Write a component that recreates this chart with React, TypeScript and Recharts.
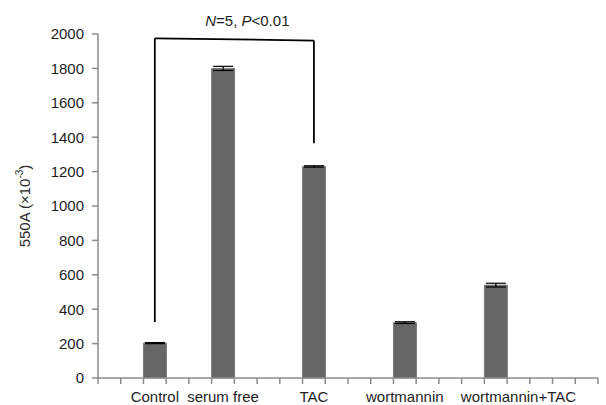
import React from "react"
import { BarChart, Bar, XAxis, YAxis, ErrorBar, ReferenceLine } from "recharts"

// Excel-style axis: 22 equal category slots, most of them empty
const slotLabels = [
  "", "", "Control", "", "", "serum free", "", "", "", "TAC", "", "",
  "", "wortmannin", "", "", "", "", "wortmannin+TAC", "", "", "",
]
const slotValues = [
  null, null, 203, null, null, 1800, null, null, null, 1230, null, null,
  null, 322, null, null, null, 540, null, null, null, null,
]
const slotErrors = [
  null, null, 3, null, null, 12, null, null, null, 4, null, null,
  null, 5, null, null, null, 11, null, null, null, null,
]
const yTicks = [0, 200, 400, 600, 800, 1000, 1200, 1400, 1600, 1800, 2000]

// significance bracket between Control (slot 2) and TAC (slot 9)
const bracketSlots = [2, 9]
const bracketTop = [1975, 1962]
const bracketFeet = [325, 1365]

const data = slotLabels.map((label, i) => ({
  idx: i,
  label,
  value: slotValues[i],
  err: slotErrors[i],
}))

const W = 606
const H = 405
const MARGIN = { top: 34, right: 8, left: 0, bottom: 0 }
const Y_WIDTH = 98
const slotWidth = (W - Y_WIDTH - MARGIN.left - MARGIN.right) / slotLabels.length

const axisGray = "#8c8c8c"
const textColor = "#1e1e1e"

// tick marks sit on the slot boundaries like in Excel, labels at slot centres
function SlotTick(props: any) {
  const { x, y, index, payload } = props
  const half = slotWidth / 2
  const last = index === slotLabels.length - 1
  return (
    <g>
      <line x1={x - half} y1={y} x2={x - half} y2={y + 6} stroke={axisGray} strokeWidth={1.5} />
      {last && <line x1={x + half} y1={y} x2={x + half} y2={y + 6} stroke={axisGray} strokeWidth={1.5} />}
      <text x={x} y={y + 24} textAnchor="middle" fill={textColor} fontSize={15}>
        {slotLabels[payload.value]}
      </text>
    </g>
  )
}

function YTitle(props: any) {
  const vb = props.viewBox || {}
  const cx = 24
  const cy = vb.y + vb.height / 2
  return (
    <text
      x={cx}
      y={cy}
      transform={`rotate(-90 ${cx} ${cy})`}
      textAnchor="middle"
      dominantBaseline="central"
      fill="#2a2a2a"
      fontSize={15}
    >
      550A (×10<tspan dy={-5} fontSize={10}>-3</tspan>
      <tspan dy={5}>)</tspan>
    </text>
  )
}

function SigLabel(props: any) {
  const vb = props.viewBox || {}
  const x = vb.x + (vb.width || 0) / 2 + 13
  const y = vb.y - 12
  return (
    <text x={x} y={y} textAnchor="middle" fill={textColor} fontSize={15}>
      <tspan fontStyle="italic">N</tspan>=5, <tspan fontStyle="italic">P</tspan>&lt;0.01
    </text>
  )
}

export default function App() {
  return (
    <div style={{ position: "absolute", left: 0, top: 0, background: "#fff" }}>
      <BarChart
        width={W}
        height={H}
        data={data}
        margin={MARGIN}
        barCategoryGap={0}
        style={{ fontFamily: "'Liberation Sans', Arial, sans-serif" }}
      >
        <XAxis
          dataKey="idx"
          type="category"
          interval={0}
          height={27}
          axisLine={{ stroke: axisGray, strokeWidth: 1.5 }}
          tickLine={false}
          tickSize={0}
          tickMargin={0}
          tick={<SlotTick />}
        />
        <YAxis
          width={Y_WIDTH}
          domain={[0, 2000]}
          ticks={yTicks}
          interval={0}
          tickSize={6}
          tickMargin={8}
          axisLine={{ stroke: axisGray, strokeWidth: 1.5 }}
          tickLine={{ stroke: axisGray, strokeWidth: 1.5 }}
          tick={{ fill: textColor, fontSize: 15 }}
          label={<YTitle />}
        />
        <Bar dataKey="value" fill="#666666" stroke="#7c7c7c" strokeWidth={1} isAnimationActive={false}>
          <ErrorBar dataKey="err" width={10} stroke="#000" strokeWidth={1.2} />
        </Bar>
        <ReferenceLine
          segment={[{ x: bracketSlots[0], y: bracketFeet[0] }, { x: bracketSlots[0], y: bracketTop[0] }]}
          stroke="#000"
          strokeWidth={1.8}
        />
        <ReferenceLine
          segment={[{ x: bracketSlots[0], y: bracketTop[0] }, { x: bracketSlots[1], y: bracketTop[1] }]}
          stroke="#000"
          strokeWidth={1.8}
          label={<SigLabel />}
        />
        <ReferenceLine
          segment={[{ x: bracketSlots[1], y: bracketTop[1] }, { x: bracketSlots[1], y: bracketFeet[1] }]}
          stroke="#000"
          strokeWidth={1.8}
        />
      </BarChart>
    </div>
  )
}
